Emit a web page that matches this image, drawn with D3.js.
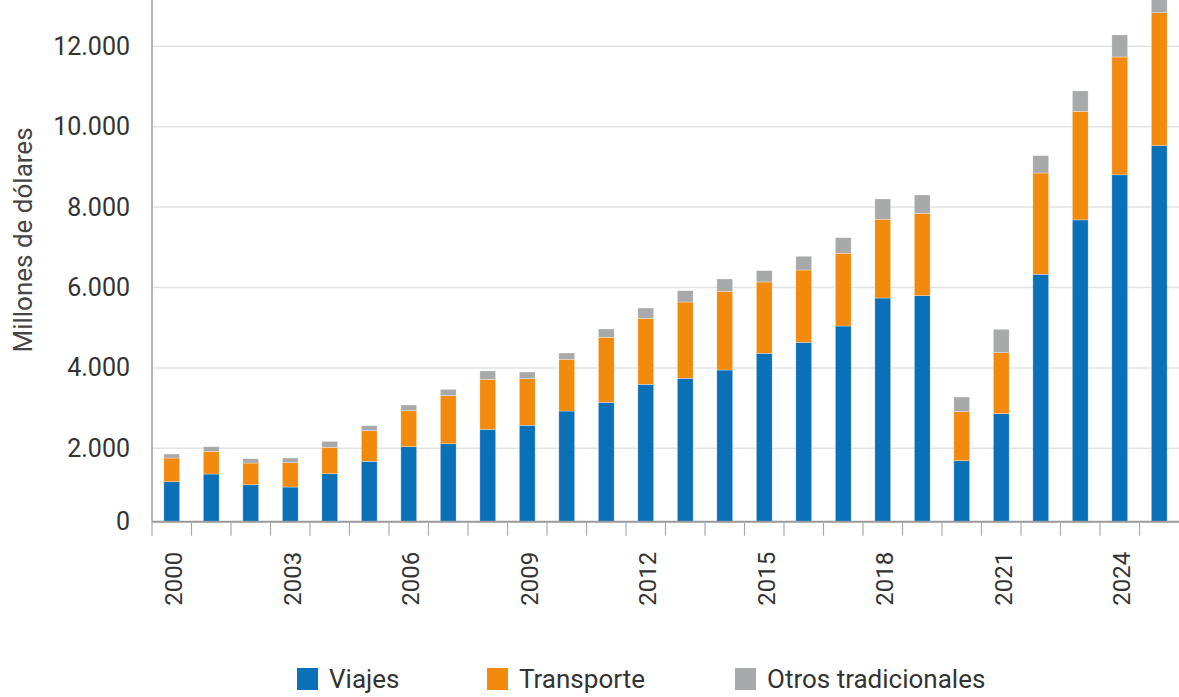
<!DOCTYPE html>
<html>
<head>
<meta charset="utf-8">
<script src="https://cdn.jsdelivr.net/npm/d3@7"></script>
<style>
    body { margin: 0; background: #fff; }
    text { font-family: Roboto, "Noto Sans", sans-serif; fill: #333; }
</style>
</head>
<body>
<div id="chart"></div>
<script>
const years = d3.range(2000, 2026)
const viajes = [1169, 1361, 1094, 1037, 1368, 1677, 2040, 2114, 2473, 2572, 2928, 3144, 3592,
    3742, 3948, 4364, 4637, 5043, 5739, 5797, 1691, 2861, 6329, 7682, 8804, 9528]
const transporte = [590, 564, 540, 605, 657, 761, 895, 1195, 1244, 1160, 1286, 1618, 1642,
    1898, 1958, 1773, 1799, 1809, 1959, 2050, 1220, 1517, 2520, 2698, 2931, 3309]
const otros = [99, 115, 107, 117, 149, 124, 142, 159, 206, 166, 157, 206, 256,
    281, 306, 282, 341, 388, 505, 455, 365, 583, 431, 510, 548, 580]
const seriesNames = ["Viajes", "Transporte", "Otros tradicionales"]
const colors = ["#0a70b8", "#f28a0e", "#a8a9ab"]
const yTicks = [2000, 4000, 6000, 8000, 10000, 12000]
const yearLabels = [2000, 2003, 2006, 2009, 2012, 2015, 2018, 2021, 2024]
// bottom of the value axis, drawn with the "0" label
const yMin = 175

const width = 1179, height = 697
const plot = {left: 152, right: 1179, bottom: 521.7}

const svg = d3.select("#chart")
    .append("svg")
    .attr("width", width)
    .attr("height", height)

const data = years.map((yr, i) => ({year: yr, Viajes: viajes[i], Transporte: transporte[i], "Otros tradicionales": otros[i]}))
const stacked = d3.stack().keys(seriesNames)(data)

// X scale
const x = d3.scaleBand()
    .domain(years)
    .range([plot.left, plot.right])
    .paddingInner(0.6)
    .paddingOuter(0.3)

// Y scale (top runs past the picture, like the original)
const y = d3.scaleLinear()
    .domain([yMin, 13500])
    .range([plot.bottom, -14])

const fmt = d3.formatLocale({decimal: ",", thousands: ".", grouping: [3], currency: ["$", ""]}).format(",d")

// grid lines
svg.append("g")
    .selectAll("line")
    .data(yTicks)
    .enter()
    .append("line")
    .attr("x1", plot.left)
    .attr("x2", plot.right)
    .attr("y1", d => y(d))
    .attr("y2", d => y(d))
    .style("stroke", "#e3e3e3")
    .style("stroke-width", 1.5)

// Add Y axis
const yAxis = svg.append("g")
    .attr("transform", `translate(${plot.left},0)`)
    .call(d3.axisLeft(y)
        .tickValues([yMin].concat(yTicks))
        .tickSize(0)
        .tickPadding(22)
        .tickFormat(d => d === yMin ? "0" : fmt(d)))
yAxis.select(".domain").remove()
yAxis.selectAll("text").style("font-size", "25px").style("fill", "#333")

svg.append("line")
    .attr("x1", plot.left).attr("x2", plot.left)
    .attr("y1", 0).attr("y2", plot.bottom)
    .style("stroke", "#a0a0a0")
    .style("stroke-width", 1.5)

// bars
svg.append("g")
    .selectAll("g")
    .data(stacked)
    .enter()
    .append("g")
    .style("fill", (d, i) => colors[i])
    .selectAll("rect")
    .data(d => d)
    .enter()
    .append("rect")
    .attr("x", d => x(d.data.year))
    .attr("width", x.bandwidth())
    .attr("y", d => y(d[1]))
    .attr("height", d => y(Math.max(d[0], yMin)) - y(d[1]))
    .style("stroke", "#ffffff")
    .style("stroke-opacity", 0.5)
    .style("stroke-width", 0.6)

// X axis line + ticks between bars
svg.append("line")
    .attr("x1", plot.left).attr("x2", plot.right)
    .attr("y1", plot.bottom).attr("y2", plot.bottom)
    .style("stroke", "#999")
    .style("stroke-width", 2)

const gap = (x.step() - x.bandwidth()) / 2
svg.append("g")
    .selectAll("line")
    .data(years)
    .enter()
    .append("line")
    .attr("x1", d => x(d) - gap)
    .attr("x2", d => x(d) - gap)
    .attr("y1", plot.bottom)
    .attr("y2", plot.bottom + 14)
    .style("stroke", "#aaa")
    .style("stroke-width", 1.2)

// year labels
const xAxis = svg.append("g")
    .attr("transform", `translate(0,${plot.bottom})`)
    .call(d3.axisBottom(x).tickValues(yearLabels).tickSize(0))
xAxis.select(".domain").remove()
xAxis.selectAll("text")
    .attr("transform", "translate(2,30) rotate(-90)")
    .attr("text-anchor", "end")
    .attr("x", 0)
    .attr("y", 0)
    .attr("dy", "0.36em")
    .style("font-size", "24px")
    .style("fill", "#333")

// Y axis label
svg.append("text")
    .attr("text-anchor", "middle")
    .attr("transform", "translate(32,240) rotate(-90)")
    .style("font-size", "26px")
    .style("fill", "#444")
    .text("Millones de dólares")

// legend
const legendX = [297, 487, 735]
const legend = svg.append("g")
    .selectAll("g")
    .data(seriesNames)
    .enter()
    .append("g")
    .attr("transform", (d, i) => `translate(${legendX[i]},668)`)
legend.append("rect")
    .attr("width", 21)
    .attr("height", 22)
    .style("fill", (d, i) => colors[i])
legend.append("text")
    .attr("x", 32)
    .attr("y", 11)
    .attr("dy", "0.36em")
    .style("font-size", "26px")
    .style("fill", "#333")
    .text(d => d)
</script>
</body>
</html>
